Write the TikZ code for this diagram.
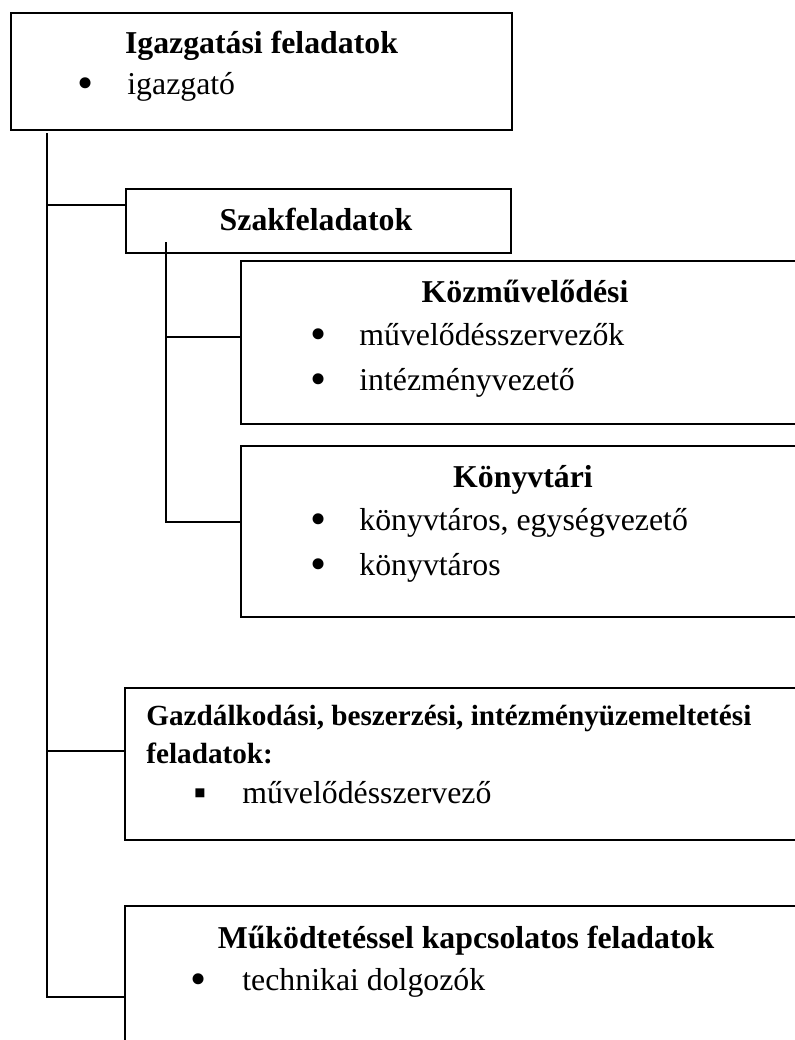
\documentclass[tikz,border=0pt]{standalone}
\usepackage{fontspec}
\setmainfont{Liberation Serif}
\usepackage{tikz}
\usetikzlibrary{positioning, calc, fit}
\tikzset{
    orgbox/.style={rectangle, draw, line width=0.9pt, inner sep=0pt},
    orgline/.style={line width=0.9pt},
    boxtitle/.style={font=\bfseries\fontsize{15.9}{19}\selectfont, inner sep=0pt, anchor=base},
    boxitem/.style={font=\fontsize{15.9}{19}\selectfont, inner sep=0pt, anchor=base west},
    itemmark/.style={font=\fontsize{23}{23}\selectfont, inner sep=0pt, anchor=base, yshift=-2.2pt},
    squaremark/.style={font=\fontsize{18}{18}\selectfont, inner sep=0pt, anchor=base, yshift=-0.6pt},
}

\begin{document}
\begin{tikzpicture}[x=0.5pt, y=-0.5pt]
    \useasboundingbox (0,0) rectangle (795,1040);
    \clip (0,0) rectangle (795,1040);

    \node[orgbox, fit={(11,13) (512,130)}] (igazg) {};
    \node[orgbox, fit={(126,189) (511,253)}] (szak) {};
    \node[orgbox, fit={(241,261) (808,424)}] (kozmuv) {};
    \node[orgbox, fit={(241,446) (808,617)}] (konyvt) {};
    \node[orgbox, fit={(125,688) (808,840)}] (gazd) {};
    \node[orgbox, fit={(125,906) (808,1070)}] (mukod) {};

    \node[boxtitle] (igazgT) at (261.5,53) {Igazgatási feladatok};
    \node[itemmark] at (86,94) {•};
    \node[boxitem] (igazgI) at (127,94) {igazgató};

    \node[boxtitle] (szakT) at (316,230) {Szakfeladatok};

    \node[boxtitle] (kozmuvT) at (525,302) {Közművelődési};
    \node[itemmark] at (319,345) {•};
    \node[boxitem] (kozmuvI1) at (359,345) {művelődésszervezők};
    \node[itemmark] at (319,390) {•};
    \node[boxitem] (kozmuvI2) at (359,390) {intézményvezető};

    \node[boxtitle] (konyvtT) at (523,487) {Könyvtári};
    \node[itemmark] at (319,530) {•};
    \node[boxitem] (konyvtI1) at (359,530) {könyvtáros, egységvezető};
    \node[itemmark] at (319,575) {•};
    \node[boxitem] (konyvtI2) at (359,575) {könyvtáros};

    \node[boxitem, font=\bfseries\fontsize{14.6}{17}\selectfont] (gazdT1) at (146,725) {Gazdálkodási, beszerzési, intézményüzemeltetési};
    \node[boxitem, font=\bfseries\fontsize{14.6}{17}\selectfont] (gazdT2) at (146,763) {feladatok:};
    \node[squaremark] at (200,803) {▪};
    \node[boxitem] (gazdI) at (242,803) {művelődésszervező};

    \node[boxtitle] (mukodT) at (466,948) {Működtetéssel kapcsolatos feladatok};
    \node[itemmark] at (199,990) {•};
    \node[boxitem] (mukodI) at (242,990) {technikai dolgozók};

    \coordinate (trunk) at (47,133);
    \coordinate (subtrunk) at (166,242);
    \draw[orgline] (trunk) |- ($(szak.north west)+(0,17)$);
    \draw[orgline] (trunk) |- ($(gazd.north west)+(0,64)$);
    \draw[orgline] (trunk) |- ($(mukod.north west)+(0,92)$);
    \draw[orgline] (subtrunk) |- ($(kozmuv.north west)+(0,77)$);
    \draw[orgline] (subtrunk) |- ($(konyvt.north west)+(0,77)$);
\end{tikzpicture}
\end{document}
